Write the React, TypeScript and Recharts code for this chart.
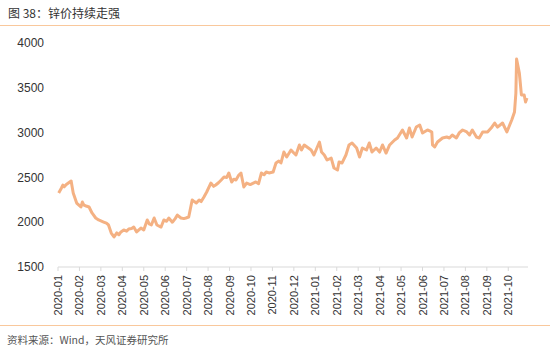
import React from "react";
import { LineChart, Line, XAxis, YAxis } from "recharts";

// 锌价 daily-ish readings (元/吨 scale as shown)
const DATES = [
  "2020-01-02", "2020-01-06", "2020-01-08", "2020-01-10", "2020-01-13", "2020-01-16", "2020-01-20", "2020-01-23",
  "2020-01-28", "2020-02-03", "2020-02-05", "2020-02-07", "2020-02-10", "2020-02-14", "2020-02-18", "2020-02-23",
  "2020-02-27", "2020-03-05", "2020-03-09", "2020-03-12", "2020-03-16", "2020-03-20", "2020-03-24", "2020-03-27",
  "2020-03-30", "2020-04-03", "2020-04-07", "2020-04-10", "2020-04-14", "2020-04-17", "2020-04-21", "2020-04-27",
  "2020-05-01", "2020-05-06", "2020-05-09", "2020-05-12", "2020-05-16", "2020-05-20", "2020-05-26", "2020-05-30",
  "2020-06-03", "2020-06-06", "2020-06-11", "2020-06-15", "2020-06-18", "2020-06-23", "2020-06-27", "2020-06-30",
  "2020-07-04", "2020-07-09", "2020-07-12", "2020-07-15", "2020-07-19", "2020-07-22", "2020-07-26", "2020-07-30",
  "2020-08-05", "2020-08-09", "2020-08-12", "2020-08-16", "2020-08-20", "2020-08-24", "2020-08-28", "2020-08-31",
  "2020-09-04", "2020-09-07", "2020-09-10", "2020-09-14", "2020-09-17", "2020-09-21", "2020-09-25", "2020-09-30",
  "2020-10-08", "2020-10-12", "2020-10-16", "2020-10-20", "2020-10-23", "2020-10-27", "2020-11-02", "2020-11-06",
  "2020-11-10", "2020-11-13", "2020-11-17", "2020-11-21", "2020-11-27", "2020-12-01", "2020-12-04", "2020-12-09",
  "2020-12-12", "2020-12-16", "2020-12-20", "2020-12-26", "2020-12-30", "2021-01-07", "2021-01-10", "2021-01-14",
  "2021-01-18", "2021-01-24", "2021-01-28", "2021-02-02", "2021-02-04", "2021-02-08", "2021-02-13", "2021-02-17",
  "2021-02-21", "2021-02-27", "2021-03-03", "2021-03-07", "2021-03-13", "2021-03-17", "2021-03-21", "2021-03-27",
  "2021-04-01", "2021-04-05", "2021-04-10", "2021-04-15", "2021-04-22", "2021-04-26", "2021-05-03", "2021-05-09",
  "2021-05-13", "2021-05-17", "2021-05-23", "2021-05-28", "2021-06-01", "2021-06-08", "2021-06-11", "2021-06-14",
  "2021-06-15", "2021-06-18", "2021-06-22", "2021-06-29", "2021-07-05", "2021-07-09", "2021-07-13", "2021-07-19",
  "2021-07-23", "2021-07-28", "2021-08-03", "2021-08-07", "2021-08-11", "2021-08-17", "2021-08-21", "2021-08-26",
  "2021-09-02", "2021-09-07", "2021-09-12", "2021-09-16", "2021-09-23", "2021-09-29", "2021-10-06", "2021-10-10",
  "2021-10-12", "2021-10-13", "2021-10-17", "2021-10-20", "2021-10-24", "2021-10-26", "2021-10-28",
];

const ZINC = [
  2326, 2382, 2415, 2395, 2420, 2437, 2460, 2326,
  2214, 2170, 2225, 2190, 2181, 2170, 2103, 2047,
  2025, 2002, 1990, 1969, 1879, 1835, 1880, 1860,
  1891, 1913, 1900, 1924, 1930, 1946, 1891, 1935,
  1913, 2025, 1980, 1969, 2047, 1969, 1946, 2025,
  2010, 2047, 2000, 2040, 2080, 2047, 2040, 2047,
  2058, 2248, 2230, 2214, 2248, 2230, 2281, 2337,
  2437, 2400, 2415, 2440, 2471, 2504, 2500, 2549,
  2449, 2480, 2471, 2527, 2549, 2393, 2437, 2420,
  2449, 2430, 2549, 2530, 2560, 2550, 2560, 2661,
  2683, 2661, 2783, 2728, 2806, 2772, 2750, 2862,
  2806, 2862, 2839, 2806, 2750, 2895, 2783, 2750,
  2694, 2716, 2605, 2583, 2672, 2661, 2750, 2862,
  2884, 2828, 2728, 2828, 2806, 2884, 2783, 2828,
  2783, 2862, 2772, 2862, 2917, 2940, 3029, 2940,
  3051, 2951, 3062, 3085, 2996, 3029, 3020, 3007,
  2862, 2839, 2895, 2940, 2951, 2940, 2973, 2940,
  2996, 3029, 3007, 2973, 3029, 2951, 2940, 3007,
  3007, 3051, 3107, 3062, 3107, 3007, 3141, 3230,
  3442, 3821, 3665, 3420, 3420, 3342, 3386,
];

const MONTH_LABELS = [
  "2020-01", "2020-02", "2020-03", "2020-04", "2020-05", "2020-06", "2020-07",
  "2020-08", "2020-09", "2020-10", "2020-11", "2020-12", "2021-01", "2021-02",
  "2021-03", "2021-04", "2021-05", "2021-06", "2021-07", "2021-08", "2021-09", "2021-10",
];

const Y_TICKS = [1500, 2000, 2500, 3000, 3500, 4000];

// month index (fractional) so each month gets the same width, like the source chart
const toMonthIndex = (d: string) => {
  const [y, m, day] = d.split("-").map(Number);
  const dim = new Date(y, m, 0).getDate();
  return (y - 2020) * 12 + (m - 1) + (day - 1) / dim;
};

const data = DATES.map((d, i) => ({ t: toMonthIndex(d), value: ZINC[i] }));

const MonthTick = (props: any) => {
  const { x, y, payload } = props;
  return (
    <text
      x={x}
      y={y}
      transform={`rotate(-90, ${x}, ${y})`}
      textAnchor="end"
      dominantBaseline="central"
      fontSize={11}
      fill="#333"
      fontFamily="'Liberation Sans', Arial, sans-serif"
    >
      {MONTH_LABELS[payload.value]}
    </text>
  );
};

export default function App() {
  return (
    <div style={{ position: "absolute", left: 0, top: 0, width: 550, height: 353, background: "#fff", fontFamily: "'Noto Sans CJK SC', sans-serif" }}>
      <div style={{ position: "absolute", left: 8, top: 4, fontSize: 12, color: "#333", lineHeight: "18px" }}>
        图 38：锌价持续走强
      </div>
      <div style={{ position: "absolute", left: 0, top: 25, width: 550, height: 1, background: "#f9c89c" }} />

      <div style={{ position: "absolute", left: 0, top: 0 }}>
        <LineChart width={550} height={353} data={data} margin={{ top: 43, right: 22, bottom: 36, left: 0 }}>
          <XAxis
            dataKey="t"
            type="number"
            domain={[0, 21.92]}
            ticks={MONTH_LABELS.map((_, i) => i)}
            interval={0}
            height={50}
            axisLine={{ stroke: "#d9d9d9" }}
            tickLine={{ stroke: "#d9d9d9" }}
            tickSize={4}
            tickMargin={4}
            tick={<MonthTick />}
          />
          <YAxis
            type="number"
            domain={[1500, 4000]}
            ticks={Y_TICKS}
            width={58}
            axisLine={false}
            tickLine={false}
            tickMargin={8}
            tick={{ fontSize: 12, fill: "#333", fontFamily: "'Liberation Sans', Arial, sans-serif" }}
          />
          <Line
            type="linear"
            dataKey="value"
            stroke="#f4b183"
            strokeWidth={3}
            strokeLinejoin="round"
            dot={false}
            isAnimationActive={false}
          />
        </LineChart>
      </div>

      <div style={{ position: "absolute", left: 0, top: 325, width: 550, height: 1, background: "#f9c89c" }} />
      <div style={{ position: "absolute", left: 7, top: 332, fontSize: 10.5, color: "#555", lineHeight: "16px" }}>
        资料来源：Wind，天风证券研究所
      </div>
    </div>
  );
}
